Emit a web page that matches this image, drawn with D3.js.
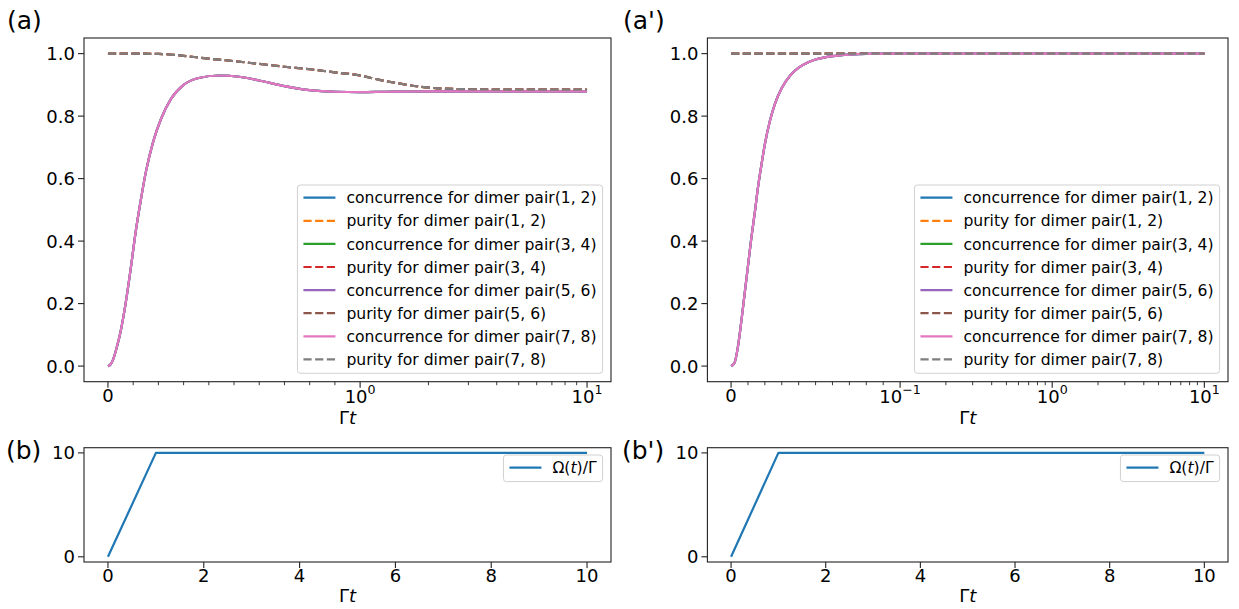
<!DOCTYPE html>
<html>
<head>
<meta charset="utf-8">
<script src="https://cdn.jsdelivr.net/npm/d3@7"></script>
<style>
  html, body { margin: 0; padding: 0; background: #fff; }
  svg { display: block; }
  text { font-family: "DejaVu Sans", sans-serif; fill: #000; }
</style>
</head>
<body>
<svg id="fig" width="1239" height="609"></svg>
<script>
// ---------------- data ----------------
// panel (a): symlog x (linthresh 1)
const tConcA = [0, 0.01, 0.02, 0.035, 0.05, 0.07, 0.09, 0.11, 0.13, 0.15, 0.18, 0.21, 0.25, 0.3, 0.36, 0.44, 0.52, 0.6, 0.7, 0.8, 0.9, 1.0, 1.3, 2, 4, 10];
const concA  = [0, 0.005, 0.02, 0.06, 0.11, 0.2, 0.31, 0.43, 0.53, 0.62, 0.72, 0.79, 0.855, 0.9, 0.922, 0.93, 0.926, 0.914, 0.896, 0.883, 0.878, 0.877, 0.878, 0.879, 0.879, 0.879];
const tPurA  = [0, 0.1, 0.2, 0.25, 0.3, 0.4, 0.5, 0.6, 0.7, 0.8, 0.9, 1.0, 1.2, 1.5, 1.8, 2.2, 3, 4, 6, 10];
const purA   = [1.0, 1.0, 0.999, 0.997, 0.993, 0.984, 0.976, 0.967, 0.958, 0.95, 0.94, 0.93, 0.917, 0.904, 0.895, 0.889, 0.886, 0.885, 0.885, 0.885];

// panel (a'): symlog x (linthresh 0.1)
const tConcA2 = [0, 0.002, 0.004, 0.006, 0.008, 0.01, 0.012, 0.014, 0.016, 0.018, 0.02, 0.023, 0.026, 0.03, 0.035, 0.04, 0.045, 0.05, 0.06, 0.07, 0.08, 0.1, 0.2, 1, 10];
const concA2  = [0, 0.01, 0.06, 0.14, 0.23, 0.32, 0.41, 0.49, 0.575, 0.645, 0.71, 0.785, 0.84, 0.89, 0.93, 0.955, 0.971, 0.981, 0.992, 0.997, 0.999, 1.0, 1.0, 1.0, 1.0];
const tPurA2  = [0, 10];
const purA2   = [1.0, 1.0];

// panels (b), (b'): drive Omega(t)/Gamma
const tDrive = [0, 1, 10];
const drive  = [0, 10, 10];

const seriesLabels = [
  "concurrence for dimer pair(1, 2)", "purity for dimer pair(1, 2)",
  "concurrence for dimer pair(3, 4)", "purity for dimer pair(3, 4)",
  "concurrence for dimer pair(5, 6)", "purity for dimer pair(5, 6)",
  "concurrence for dimer pair(7, 8)", "purity for dimer pair(7, 8)"
];
const seriesKinds = ["conc", "pur", "conc", "pur", "conc", "pur", "conc", "pur"];
const colors = ["#1f77b4", "#ff7f0e", "#2ca02c", "#d62728", "#9467bd", "#8c564b", "#e377c2", "#7f7f7f"];

const yTicksTop = [0, 0.2, 0.4, 0.6, 0.8, 1.0];
const yTickLabelsTop = ["0.0", "0.2", "0.4", "0.6", "0.8", "1.0"];
const yTicksBot = [0, 10];
const xTicksBot = [0, 2, 4, 6, 8, 10];
const majorA  = [{v: 0, base: "0"}, {v: 1, base: "10", exp: "0"}, {v: 10, base: "10", exp: "1"}];
const majorA2 = [{v: 0, base: "0"}, {v: 0.1, base: "10", exp: "\u22121"}, {v: 1, base: "10", exp: "0"}, {v: 10, base: "10", exp: "1"}];
const minorA  = [0.1,0.2,0.3,0.4,0.5,0.6,0.7,0.8,0.9, 2,3,4,5,6,7,8,9];
const minorA2 = [0.01,0.02,0.03,0.04,0.05,0.06,0.07,0.08,0.09, 0.2,0.3,0.4,0.5,0.6,0.7,0.8,0.9, 2,3,4,5,6,7,8,9];

// ---------------- helpers ----------------
const svg = d3.select("#fig");
const TICK_FS = 18, LEG_FS = 15.6, LW = 2.2, DASH = "8.2,3.5";

function symlogScale(linthresh, xmax, range) {
  const c = 1 / (1 - 1 / 10);
  const T = v => v <= linthresh ? (v / linthresh) * c : c + Math.log10(v / linthresh);
  const tmax = T(xmax), m = 0.05 * tmax;
  const lin = d3.scaleLinear().domain([-m, tmax + m]).range(range);
  return v => lin(T(v));
}

function frame(x0, x1, y0, y1) {
  svg.append("rect").attr("x", x0).attr("y", y0).attr("width", x1 - x0).attr("height", y1 - y0)
    .attr("fill", "none").attr("stroke", "#222").attr("stroke-width", 1.1);
}

function yAxis(y, x0, ticks, labels) {
  ticks.forEach((t, i) => {
    svg.append("line").attr("x1", x0 - 6).attr("x2", x0).attr("y1", y(t)).attr("y2", y(t))
      .attr("stroke", "#222").attr("stroke-width", 1.1);
    svg.append("text").attr("x", x0 - 9).attr("y", y(t)).attr("dy", "0.36em")
      .attr("text-anchor", "end").attr("font-size", TICK_FS).text(labels[i]);
  });
}

function xAxisLinear(x, yb, ticks) {
  ticks.forEach(t => {
    svg.append("line").attr("x1", x(t)).attr("x2", x(t)).attr("y1", yb).attr("y2", yb + 6)
      .attr("stroke", "#222").attr("stroke-width", 1.1);
    svg.append("text").attr("x", x(t)).attr("y", yb + 19.5).attr("text-anchor", "middle")
      .attr("font-size", TICK_FS).text(String(t));
  });
}

function xAxisSymlog(x, yb, majors, minors) {
  minors.forEach(t => {
    svg.append("line").attr("x1", x(t)).attr("x2", x(t)).attr("y1", yb).attr("y2", yb + 3.5)
      .attr("stroke", "#222").attr("stroke-width", 0.9);
  });
  majors.forEach(m => {
    svg.append("line").attr("x1", x(m.v)).attr("x2", x(m.v)).attr("y1", yb).attr("y2", yb + 6)
      .attr("stroke", "#222").attr("stroke-width", 1.1);
    if (!m.exp) {
      svg.append("text").attr("x", x(m.v)).attr("y", yb + 19.8).attr("text-anchor", "middle")
        .attr("font-size", TICK_FS).text(m.base);
    } else {
      const g = svg.append("text").attr("x", x(m.v)).attr("y", yb + 21.5).attr("text-anchor", "middle")
        .attr("font-size", TICK_FS);
      g.append("tspan").text(m.base);
      g.append("tspan").attr("font-size", TICK_FS * 0.7).attr("dy", -9).text(m.exp);
    }
  });
}

function xLabel(cx, y) {
  const t = svg.append("text").attr("x", cx).attr("y", y).attr("text-anchor", "middle").attr("font-size", TICK_FS);
  t.append("tspan").text("\u0393");
  t.append("tspan").attr("font-style", "italic").text("t");
}

function panelLabel(x, y, s) {
  svg.append("text").attr("x", x).attr("y", y).attr("font-size", 25).text(s);
}

function drawSeries(x, y, ts, vs, color, dashed, curve) {
  const pts = ts.map((t, i) => [t, vs[i]]);
  svg.append("path").datum(pts)
    .attr("d", d3.line().x(d => x(d[0])).y(d => y(d[1])).curve(curve || d3.curveMonotoneX))
    .attr("fill", "none").attr("stroke", color).attr("stroke-width", LW)
    .attr("stroke-linejoin", "round")
    .attr("stroke-dasharray", dashed ? DASH : null);
}

function legend(right, top, rowH, items) {
  const g = svg.append("g");
  const box = g.append("rect");
  let maxW = 0;
  const lineX0 = 6, lineX1 = 38, textX = 49;
  items.forEach((it, i) => {
    const cy = top + 12.7 + i * rowH;
    g.append("line").attr("class", "ls").attr("y1", cy).attr("y2", cy)
      .attr("stroke", it.color).attr("stroke-width", LW)
      .attr("stroke-dasharray", it.dashed ? DASH : null);
    const tx = g.append("text").attr("class", "lt").attr("y", cy).attr("dy", "0.36em")
      .attr("font-size", LEG_FS);
    if (it.omega) {
      tx.append("tspan").text("\u03a9(");
      tx.append("tspan").attr("font-style", "italic").text("t");
      tx.append("tspan").text(")/\u0393");
    } else tx.text(it.label);
    maxW = Math.max(maxW, tx.node().getComputedTextLength());
  });
  const w = textX + maxW + 6;
  const left = right - w;
  g.selectAll(".ls").attr("x1", left + lineX0).attr("x2", left + lineX1);
  g.selectAll(".lt").attr("x", left + textX);
  const h = items.length * rowH + 3.5;
  box.attr("x", left).attr("y", top).attr("width", w).attr("height", h).attr("rx", 3)
    .attr("fill", "#fff").attr("fill-opacity", 0.8).attr("stroke", "#d0d0d0").attr("stroke-width", 1);
}

// ---------------- top panels ----------------
const topY = [38, 381.7];
const yTop = d3.scaleLinear().domain([-0.05, 1.05]).range([topY[1], topY[0]]);

function topPanel(x0, x1, linthresh, majors, minors, tc, vc, tp, vp) {
  const x = symlogScale(linthresh, 10, [x0, x1]);
  seriesKinds.forEach((k, i) => {
    if (k === "conc") drawSeries(x, yTop, tc, vc, colors[i], false);
    else drawSeries(x, yTop, tp, vp, colors[i], true);
  });
  frame(x0, x1, topY[0], topY[1]);
  yAxis(yTop, x0, yTicksTop, yTickLabelsTop);
  xAxisSymlog(x, topY[1], majors, minors);
  xLabel((x0 + x1) / 2, 423.5);
  legend(x1 - 8.4, 185, 23.1, seriesLabels.map((l, i) => ({label: l, color: colors[i], dashed: seriesKinds[i] === "pur"})));
}

topPanel(84, 611, 1, majorA, minorA, tConcA, concA, tPurA, purA);
topPanel(707.4, 1228, 0.1, majorA2, minorA2, tConcA2, concA2, tPurA2, purA2);

// ---------------- bottom panels ----------------
const botY = [447.7, 562];
const yBot = d3.scaleLinear().domain([-0.5, 10.5]).range([botY[1], botY[0]]);

function bottomPanel(x0, x1) {
  const x = d3.scaleLinear().domain([-0.5, 10.5]).range([x0, x1]);
  drawSeries(x, yBot, tDrive, drive, colors[0], false, d3.curveLinear);
  frame(x0, x1, botY[0], botY[1]);
  yAxis(yBot, x0, yTicksBot, yTicksBot.map(String));
  xAxisLinear(x, botY[1], xTicksBot);
  xLabel((x0 + x1) / 2, 602.4);
  legend(x1 - 8.4, 455, 23.1, [{omega: true, color: colors[0], dashed: false}]);
}

bottomPanel(84, 611);
bottomPanel(707.4, 1228);

// ---------------- panel labels ----------------
panelLabel(7, 28.5, "(a)");
panelLabel(623, 28.5, "(a')");
panelLabel(6, 459, "(b)");
panelLabel(622, 459, "(b')");
</script>
</body>
</html>
